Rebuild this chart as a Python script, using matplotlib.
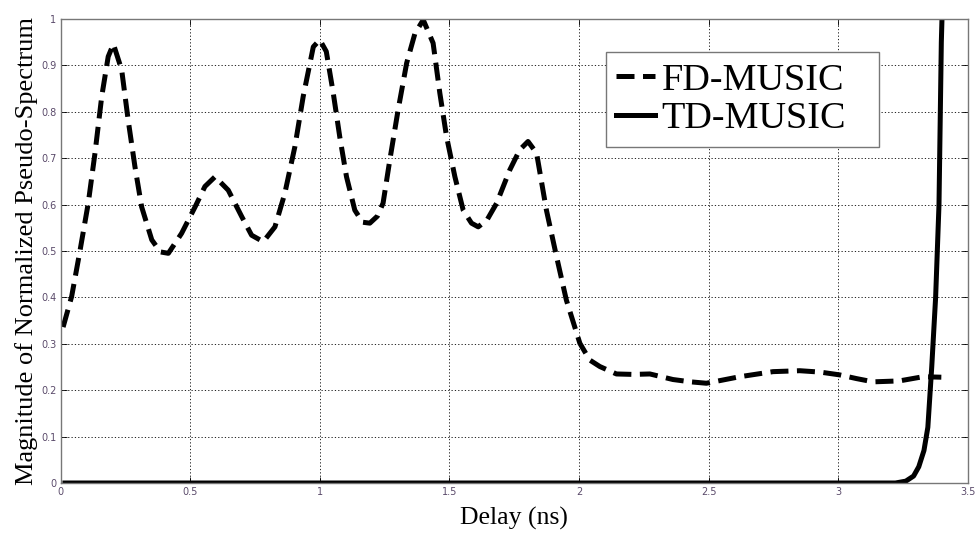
import matplotlib.pyplot as plt

# FD-MUSIC pseudo-spectrum
fd_delay = [0.01, 0.043, 0.075, 0.107, 0.133, 0.159, 0.184, 0.204, 0.236, 0.261, 0.287,
            0.313, 0.352, 0.385, 0.416, 0.467, 0.519, 0.557, 0.596, 0.647, 0.699, 0.737,
            0.782, 0.827, 0.865, 0.904, 0.936, 0.975, 1.0, 1.025, 1.052, 1.077, 1.103,
            1.135, 1.165, 1.193, 1.222, 1.244, 1.27, 1.302, 1.335, 1.367, 1.399, 1.437,
            1.463, 1.489, 1.521, 1.553, 1.585, 1.611, 1.645, 1.682, 1.733, 1.771, 1.803,
            1.836, 1.874, 1.913, 1.951, 2.003, 2.041, 2.08, 2.144, 2.21, 2.273, 2.362,
            2.43, 2.491, 2.555, 2.619, 2.748, 2.851, 2.93, 3.005, 3.07, 3.134, 3.235,
            3.326, 3.397]
fd_mag = [0.336, 0.402, 0.50, 0.603, 0.711, 0.833, 0.919, 0.946, 0.89, 0.782, 0.682,
          0.595, 0.524, 0.498, 0.495, 0.538, 0.595, 0.639, 0.66, 0.631, 0.574, 0.534,
          0.52, 0.552, 0.624, 0.725, 0.833, 0.94, 0.955, 0.93, 0.84, 0.746, 0.66,
          0.588, 0.562, 0.56, 0.575, 0.603, 0.696, 0.804, 0.905, 0.969, 0.998, 0.948,
          0.84, 0.746, 0.66, 0.588, 0.56, 0.552, 0.567, 0.603, 0.675, 0.718, 0.736,
          0.711, 0.588, 0.488, 0.394, 0.301, 0.265, 0.251, 0.235, 0.234, 0.235, 0.223,
          0.218, 0.215, 0.222, 0.229, 0.240, 0.242, 0.239, 0.233, 0.225, 0.218, 0.22,
          0.229, 0.228]

# TD-MUSIC pseudo-spectrum
td_delay = [0.017, 3.22, 3.26, 3.29, 3.31, 3.33, 3.345, 3.36, 3.375, 3.388, 3.397, 3.402]
td_mag = [0.0, 0.0, 0.004, 0.015, 0.035, 0.07, 0.12, 0.25, 0.4, 0.6, 0.95, 1.05]

x_ticks = [0, 0.5, 1, 1.5, 2, 2.5, 3, 3.5]
x_tick_labels = ["0", "0.5", "1", "1.5", "2", "2.5", "3", "3.5"]
y_ticks = [0, 0.1, 0.2, 0.3, 0.4, 0.5, 0.6, 0.7, 0.8, 0.9, 1]
y_tick_labels = ["0", "0.1", "0.2", "0.3", "0.4", "0.5", "0.6", "0.7", "0.8", "0.9", "1"]

fig = plt.figure(figsize=(9.79, 5.33), dpi=100)
ax = fig.add_axes([0.0618, 0.0938, 0.9270, 0.8706])

ax.plot(fd_delay, fd_mag, color="black", linewidth=3.6, linestyle=(0, (3.6, 1.7)),
        label="FD-MUSIC", solid_capstyle="butt", dash_capstyle="butt")
ax.plot(td_delay, td_mag, color="black", linewidth=3.6, label="TD-MUSIC")

ax.set_xlim(0, 3.5)
ax.set_ylim(0, 1)
ax.set_xticks(x_ticks)
ax.set_xticklabels(x_tick_labels)
ax.set_yticks(y_ticks)
ax.set_yticklabels(y_tick_labels)
ax.tick_params(direction="in", length=4, width=0.6, top=True, right=True,
               labelsize=7, labelcolor="#5a4a6a", pad=3)
ax.grid(True, color="black", linestyle=(0, (1.5, 2.5)), linewidth=0.6)
for s in ax.spines.values():
    s.set_color("#777777")
    s.set_linewidth(1.0)

ax.set_xlabel("Delay (ns)", fontfamily="Liberation Serif", fontsize=18.5, labelpad=7)
ax.set_ylabel("Magnitude of Normalized Pseudo-Spectrum", fontfamily="Liberation Serif",
              fontsize=19, labelpad=2)

leg = ax.legend(loc="upper left", bbox_to_anchor=(0.6008, 0.5, 0.3015, 0.428),
                mode="expand", prop={"family": "Liberation Serif", "size": 27.5},
                handlelength=1.0, handletextpad=0.18, borderpad=0.28,
                labelspacing=0.1, fancybox=False, framealpha=1, borderaxespad=0)
leg.get_frame().set_edgecolor("#777777")
leg.get_frame().set_linewidth(1.0)

fig.savefig("out.png", dpi=100)
plt.close(fig)
